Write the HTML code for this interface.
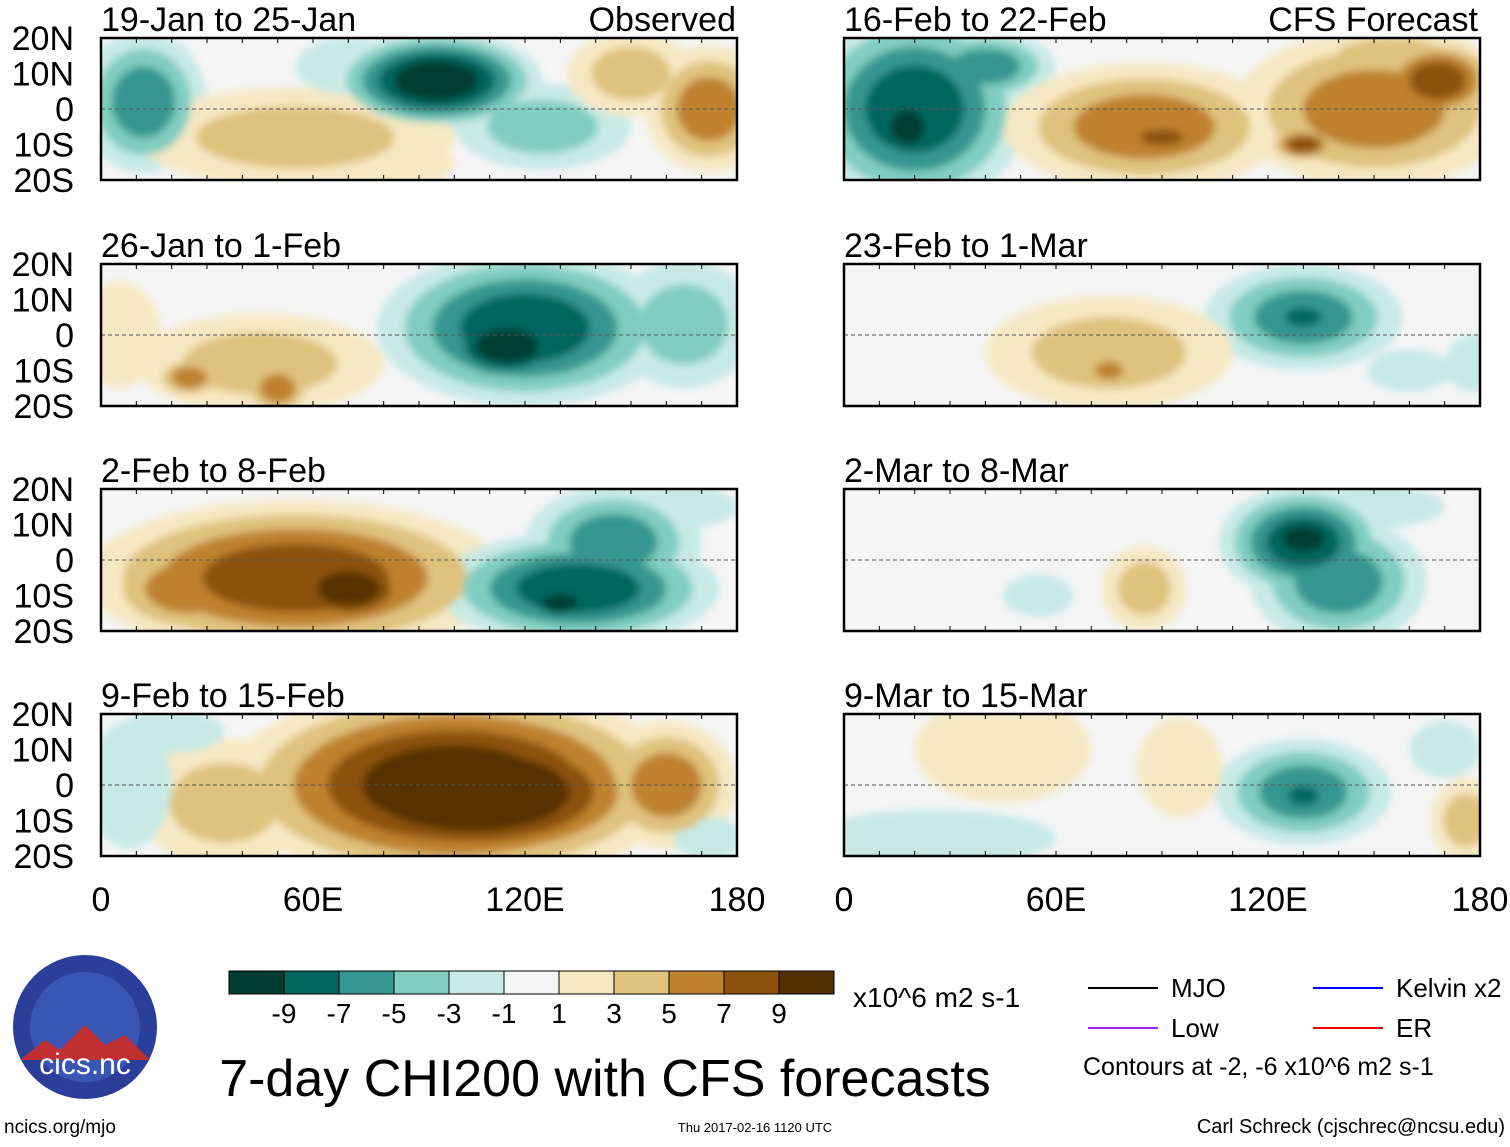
<!DOCTYPE html>
<html><head><meta charset="utf-8"><style>
body{margin:0;background:#fff;font-family:"Liberation Sans",sans-serif}
svg text{font-family:"Liberation Sans",sans-serif}
</style></head><body>
<svg id="fig" width="1510" height="1142" viewBox="0 0 1510 1142" xmlns="http://www.w3.org/2000/svg">
<defs>
<filter id="bl" x="-50%" y="-50%" width="200%" height="200%"><feGaussianBlur stdDeviation="4"/></filter>
</defs>
<g id="panels"></g>
<g id="legend"></g>
</svg>
<script>
const levels=[-9,-7,-5,-3,-1,1,3,5,7,9];
const colors=["#003c30","#01665e","#35978f","#80cdc1","#c7eae5","#f5f5f5","#f6e8c3","#dfc27d","#bf812d","#8c510a","#543005"];
const panelTitles=["19-Jan to 25-Jan","26-Jan to 1-Feb","2-Feb to 8-Feb","9-Feb to 15-Feb","16-Feb to 22-Feb","23-Feb to 1-Mar","2-Mar to 8-Mar","9-Mar to 15-Mar"];
const latTicks=["20N","10N","0","10S","20S"];
const latVals=[20,10,0,-10,-20];
const lonTicks=["0","60E","120E","180"];
const lonVals=[0,60,120,180];
// blobs: [lon, lat, lonRadius, latRadius, value]
const blobs0=[[12,2,18,20,-5],[95,8,30,14,-9],[125,-5,25,12,-3],[55,-8,45,14,3],[172,0,18,18,6],[150,10,18,12,3],[80,-15,20,8,2],[70,12,15,8,-1]];
const blobs1=[[5,0,12,15,2],[45,-8,35,14,3],[120,2,42,22,-7],[115,-3,22,12,-9],[165,3,20,18,-3],[50,-15,10,8,6],[25,-12,10,6,5]];
const blobs2=[[55,-5,60,22,7],[70,-8,22,12,10],[25,-8,25,14,6],[135,-8,40,16,-7],[145,5,25,16,-5],[150,-10,18,10,-5],[130,-12,12,6,-9],[165,15,15,6,-2]];
const blobs3=[[100,0,65,28,10],[105,-2,55,22,11],[160,0,20,18,5],[35,-5,25,18,4],[8,0,12,18,-1],[172,-15,10,6,-1],[20,15,15,6,-1]];
const blobs4=[[20,0,32,28,-7],[18,-5,12,12,-9],[40,12,20,10,-5],[85,-5,40,18,5],[90,-8,14,5,7],[150,0,40,22,5],[130,-10,10,5,7],[168,8,18,12,7],[155,15,25,8,3]];
const blobs5=[[130,5,28,15,-5],[130,5,12,6,-7],[75,-5,35,16,3],[75,-10,8,5,6],[178,-8,8,8,-2],[160,-10,12,6,-1]];
const blobs6=[[130,5,24,16,-7],[130,6,15,9,-9],[140,-6,25,18,-5],[85,-8,12,12,3],[55,-10,10,6,-2],[150,15,20,6,-1]];
const blobs7=[[130,-2,25,15,-5],[130,-3,10,6,-7],[45,10,25,15,2],[95,5,12,14,2],[25,-15,35,8,-2],[176,-10,10,12,3],[170,10,10,8,-1]];
const allBlobs=[blobs0,blobs1,blobs2,blobs3,blobs4,blobs5,blobs6,blobs7];
const NS="http://www.w3.org/2000/svg";
function mk(tag,attrs,parent){const e=document.createElementNS(NS,tag);for(const k in attrs)e.setAttribute(k,attrs[k]);parent.appendChild(e);return e;}
function colorFor(v){let i=0;while(i<levels.length&&v>levels[i])i++;return colors[i];}
const PW=636,PH=142,lefts=[101,844],tops=[38,264,489,714];
const root=document.getElementById('panels');
for(let p=0;p<8;p++){
  const col=p<4?0:1,row=p%4,x0=lefts[col],y0=tops[row];
  const xs=lon=>x0+lon/180*PW, ys=lat=>y0+(20-lat)/40*PH;
  const g=mk('g',{},root);
  
  
  const cid='c'+p;
  const cp=mk('clipPath',{id:cid},g);mk('rect',{x:x0,y:y0,width:PW,height:PH},cp);
  const inner=mk('g',{'clip-path':'url(#'+cid+')'},g);
  mk('rect',{x:x0,y:y0,width:PW,height:PH,fill:colors[5]},inner);
  const bg=mk('g',{filter:'url(#bl)'},inner);
  // build layers then draw sorted by |level| so inner contours stay on top
  const layers=[];
  allBlobs[p].forEach(b=>{
    const [lon,lat,rl,ra,v]=b;const n=Math.ceil(Math.abs(v)/2);
    for(let k=1;k<=n;k++){
      const f=1-(k-1)/n*0.75;
      layers.push({k:k,lon:lon,lat:lat,rx:rl*f,ry:ra*f,lv:Math.sign(v)*(2*k)});
    }
  });
  layers.sort((a,b)=>a.k-b.k);
  layers.forEach(L=>{
    const e=mk('ellipse',{cx:xs(L.lon),cy:ys(L.lat),rx:L.rx/180*PW,ry:L.ry/40*PH,fill:colorFor(L.lv)},bg);
    
    
  });
  mk('line',{x1:x0,x2:x0+PW,y1:ys(0),y2:ys(0),stroke:'#555','stroke-dasharray':'4,3','stroke-width':1},inner);
  mk('rect',{x:x0,y:y0,width:PW,height:PH,fill:'none',stroke:'#000','stroke-width':2.5},g);
  for(let t=0;t<=18;t++){const xx=xs(t*10);mk('line',{x1:xx,x2:xx,y1:y0,y2:y0+5,stroke:'#000'},g);mk('line',{x1:xx,x2:xx,y1:y0+PH,y2:y0+PH-5,stroke:'#000'},g);}
  const tt=mk('text',{x:x0,y:y0-7,'font-size':34},g);tt.textContent=panelTitles[p];
  
  
  if(col===0){latVals.forEach((l,i)=>{const t=mk('text',{x:74,y:ys(l)+12,'font-size':34,'text-anchor':'end'},g);t.textContent=latTicks[i];
    
    });}
  if(row===3){lonVals.forEach((l,i)=>{const t=mk('text',{x:xs(l),y:911,'font-size':34,'text-anchor':'middle'},g);t.textContent=lonTicks[i];
    
    });}
}
const hdr=[[736,'Observed'],[1478,'CFS Forecast']];
hdr.forEach(h=>{const t=mk('text',{x:h[0],y:31,'font-size':34,'text-anchor':'end'},root);t.textContent=h[1];
  
  });
const L=document.getElementById('legend');
colors.forEach((c,i)=>{const r=mk('rect',{x:229+i*55,y:971,width:55,height:23,fill:c,stroke:'#000'},L);
  
  });
levels.forEach((v,i)=>{const t=mk('text',{x:284+i*55,y:1023,'font-size':28,'text-anchor':'middle'},L);t.textContent=v;
  
  });
function txt(x,y,s,str,anchor,name){const t=mk('text',{x:x,y:y,'font-size':s,'text-anchor':anchor||'start'},L);t.textContent=str;
  
  return t;}
txt(853,1007,28,'x10^6 m2 s-1','start','colorbar-units');
txt(605,1096,52,'7-day CHI200 with CFS forecasts','middle','figure-title');
txt(1083,1075,25,'Contours at -2, -6 x10^6 m2 s-1','start','contour-note');
txt(4,1133,19,'ncics.org/mjo','start','source-url');
txt(755,1132,13,'Thu 2017-02-16 1120 UTC','middle','timestamp');
txt(1505,1133,20,'Carl Schreck (cjschrec@ncsu.edu)','end','author-credit');
const leg=[[1088,988,'#000','MJO'],[1313,988,'#00f','Kelvin x2'],[1088,1028,'#a020f0','Low'],[1313,1028,'#e00','ER']];
leg.forEach(l=>{mk('line',{x1:l[0],x2:l[0]+70,y1:l[1],y2:l[1],stroke:l[2],'stroke-width':2},L);txt(l[0]+83,l[1]+9,26,l[3],'start','legend-entry');});
const logo=mk('g',{},L);
mk('circle',{cx:85,cy:1027,r:72,fill:'#2b3f9a'},logo);
mk('circle',{cx:85,cy:1027,r:55,fill:'#3a56b5'},logo);
mk('path',{d:'M20,1060 L45,1040 L60,1050 L85,1025 L105,1045 L125,1035 L150,1060 Z',fill:'#c03030'},logo);
const lt=mk('text',{x:85,y:1074,'font-size':30,'text-anchor':'middle',fill:'#fff'},logo);lt.textContent='cics.nc';
</script>
</body></html>
